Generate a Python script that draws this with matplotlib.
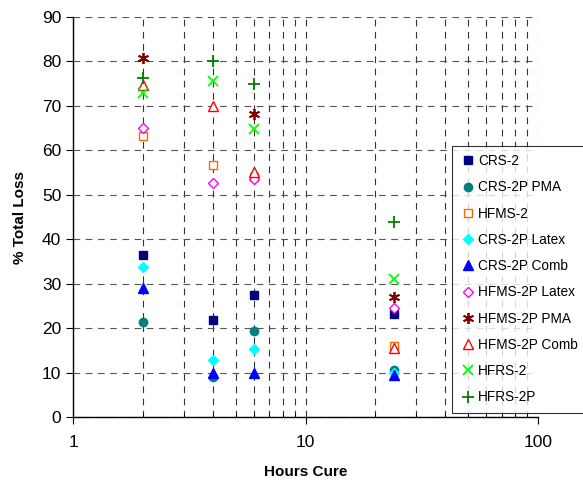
import matplotlib
matplotlib.use("Agg")
import matplotlib.pyplot as plt
import numpy as np
from matplotlib.ticker import LogLocator, NullFormatter, FixedLocator

plt.rcParams['font.family'] = ['Liberation Sans', 'DejaVu Sans']

hours = [2, 4, 6, 24]
series_names = ["CRS-2", "CRS-2P PMA", "HFMS-2", "CRS-2P Latex", "CRS-2P Comb",
                "HFMS-2P Latex", "HFMS-2P PMA", "HFMS-2P Comb", "HFRS-2", "HFRS-2P"]

crs2 = [36.5, 21.8, 27.5, 23.2]
crs2p_pma = [21.4, 8.9, 19.4, 10.6]
hfms2 = [63.2, 56.7, 54.0, 16.0]
crs2p_latex = [33.8, 12.8, 15.3, 10.0]
crs2p_comb = [29.0, 10.0, 10.0, 9.4]
hfms2p_latex = [65.0, 52.7, 53.5, 24.5]
hfms2p_pma = [80.7, np.nan, 68.2, 27.1]
hfms2p_comb = [74.7, 70.0, 55.2, 15.6]
hfrs2 = [73.0, 75.7, 64.8, 31.0]
hfrs2p = [76.2, 80.2, 74.9, 43.8]

values = [crs2, crs2p_pma, hfms2, crs2p_latex, crs2p_comb,
          hfms2p_latex, hfms2p_pma, hfms2p_comb, hfrs2, hfrs2p]

styles = [
    dict(marker='s', color='#000080', mfc='#000080', ms=6),
    dict(marker='o', color='#008080', mfc='#008080', ms=6),
    dict(marker='s', color='#FF6600', mfc='white', ms=6, mew=1.0),
    dict(marker='D', color='#00FFFF', mfc='#00FFFF', ms=5.5),
    dict(marker='^', color='#0000FF', mfc='#0000FF', ms=7),
    dict(marker='D', color='#FF00FF', mfc='white', ms=5.5, mew=1.0),
    dict(marker=(6, 2, 0), color='#800000', mfc='#800000', ms=8, mew=1.3),
    dict(marker='^', color='#FF0000', mfc='white', ms=7, mew=1.0),
    dict(marker='x', color='#00FF00', mfc='#00FF00', ms=7, mew=1.3),
    dict(marker='+', color='#008000', mfc='#008000', ms=8, mew=1.3),
]

fig = plt.figure(figsize=(5.83, 4.83), dpi=100)
ax = fig.add_axes([73/583, 66/483, 465/583, 400/483])

for name, vals, st in zip(series_names, values, styles):
    ax.plot(hours, vals, linestyle='none', label=name, **st)

ax.set_xscale('log')
ax.set_xlim(1, 100)
ax.set_ylim(0, 90)
ax.set_yticks(np.arange(0, 91, 10))
ax.xaxis.set_major_locator(FixedLocator([1, 10, 100]))
ax.set_xticklabels(['1', '10', '100'])
ax.xaxis.set_minor_locator(LogLocator(base=10, subs=np.arange(2, 10)))
ax.xaxis.set_minor_formatter(NullFormatter())

ax.grid(True, which='both', axis='x', linestyle=(0, (6, 5)), color='#333333', linewidth=0.8)
ax.grid(True, which='major', axis='y', linestyle=(0, (6, 5)), color='#555555', linewidth=0.8)
ax.set_axisbelow(True)

for s in ['top', 'right']:
    ax.spines[s].set_visible(False)
ax.spines['left'].set_linewidth(1.0)
ax.spines['bottom'].set_linewidth(1.0)

ax.tick_params(axis='both', which='major', labelsize=12.5, length=5, direction='out')
ax.tick_params(axis='x', which='minor', length=3, direction='in')
ax.tick_params(axis='x', which='major', pad=8)

ax.set_xlabel('Hours Cure', fontsize=11, fontweight='bold', labelpad=11)
ax.set_ylabel('% Total Loss', fontsize=11, fontweight='bold', labelpad=11)

leg = ax.legend(loc='upper left', bbox_to_anchor=(452/583, 337/483), bbox_transform=fig.transFigure,
                fontsize=9.8, frameon=True, fancybox=False, labelspacing=0.9,
                handletextpad=0.2, handlelength=1.1, borderpad=0.6, borderaxespad=0,
                numpoints=1)
leg.get_frame().set_edgecolor('black')
leg.get_frame().set_linewidth(0.8)

fig.savefig('out.png', dpi=100)
